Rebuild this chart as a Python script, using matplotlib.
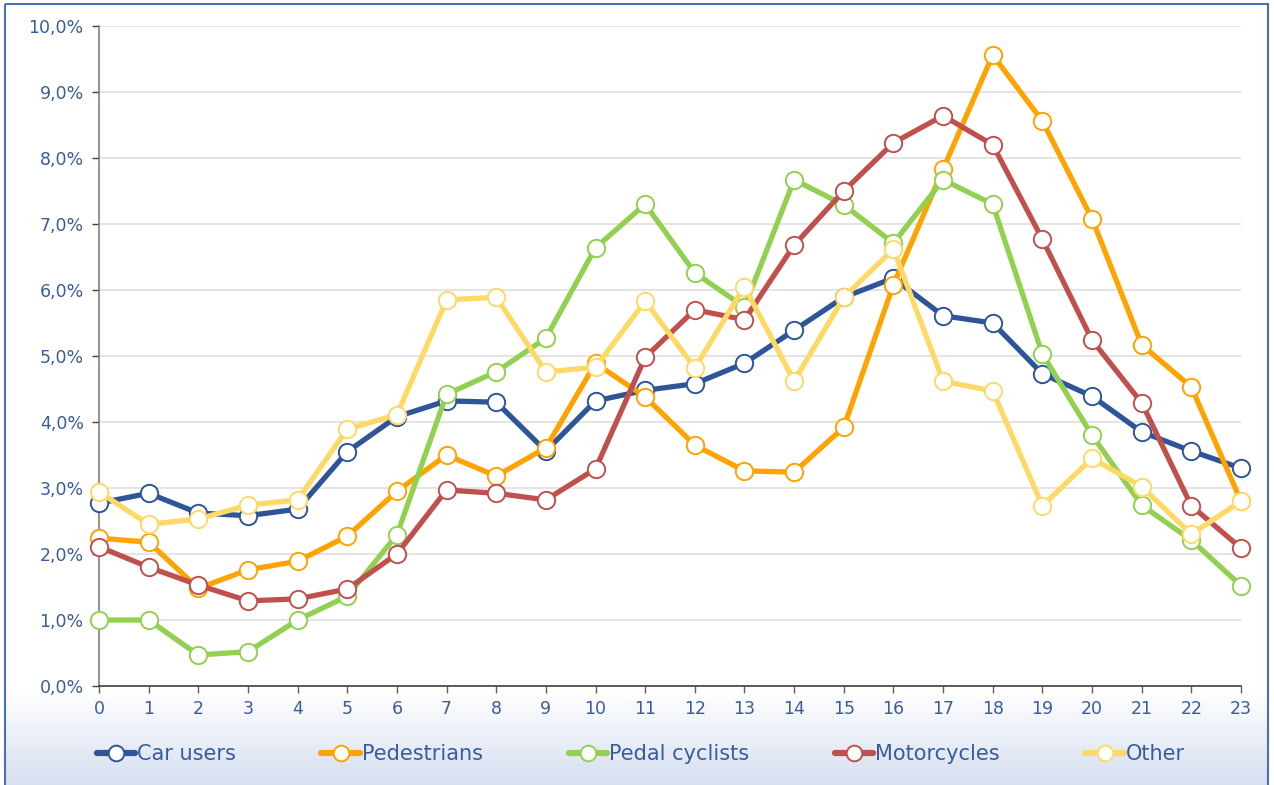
import numpy as np
import matplotlib
matplotlib.use("Agg")
import matplotlib.pyplot as plt
from matplotlib.patches import Rectangle
from matplotlib.ticker import FuncFormatter

# Heure de la journée
heures = list(range(24))

# Part des tués par heure (en %)
car_users = [2.77, 2.92, 2.62, 2.58, 2.68, 3.55, 4.08, 4.32, 4.30, 3.56, 4.32, 4.48,
             4.58, 4.89, 5.39, 5.89, 6.18, 5.61, 5.50, 4.73, 4.39, 3.85, 3.56, 3.30]
pedestrians = [2.24, 2.18, 1.48, 1.76, 1.89, 2.27, 2.95, 3.50, 3.18, 3.61, 4.89, 4.38,
               3.65, 3.26, 3.24, 3.92, 6.08, 7.83, 9.56, 8.56, 7.08, 5.17, 4.53, 2.80]
pedal_cyclists = [1.00, 1.00, 0.47, 0.52, 1.00, 1.36, 2.29, 4.42, 4.76, 5.27, 6.64, 7.30,
                  6.26, 5.74, 7.67, 7.29, 6.71, 7.67, 7.30, 5.03, 3.80, 2.74, 2.21, 1.52]
motorcycles = [2.11, 1.80, 1.53, 1.29, 1.32, 1.47, 2.00, 2.97, 2.92, 2.82, 3.29, 4.98,
               5.70, 5.55, 6.68, 7.50, 8.23, 8.64, 8.20, 6.77, 5.24, 4.29, 2.73, 2.09]
other = [2.94, 2.45, 2.53, 2.74, 2.82, 3.89, 4.11, 5.85, 5.89, 4.76, 4.83, 5.83,
         4.82, 6.05, 4.62, 5.89, 6.62, 4.62, 4.47, 2.73, 3.45, 3.02, 2.30, 2.80]

series = [
    ("Car users", car_users, "#2e5597"),
    ("Pedestrians", pedestrians, "#ffa300"),
    ("Pedal cyclists", pedal_cyclists, "#92d050"),
    ("Motorcycles", motorcycles, "#c0504d"),
    ("Other", other, "#ffd966"),
]

texte_bleu = "#3a5c9c"

fig = plt.figure(figsize=(12.74, 7.85), dpi=100)

# Fond : dégradé blanc -> bleu clair en bas
bg = fig.add_axes([0, 0, 1, 1], zorder=-10)
bg.set_xlim(0, 1274)
bg.set_ylim(785, 0)
bg.axis("off")
grad = np.linspace(0, 1, 200)[:, None]
c0 = np.array([1.0, 1.0, 1.0])
c1 = np.array([0.84, 0.875, 0.94])
img = c0 + (c1 - c0) * grad[..., None]
img = np.repeat(img, 2, axis=1)
bg.imshow(img, extent=(5, 1268, 785, 690), aspect="auto")
bg.add_patch(Rectangle((5, 4), 1263, 790, fill=False, edgecolor="#4a6fb5", lw=1.5))

ax = fig.add_axes([99 / 1274, 1 - 686 / 785, (1241 - 99) / 1274, (686 - 26) / 785])
ax.set_facecolor("none")

for nom, vals, couleur in series:
    ax.plot(heures, vals, color=couleur, lw=3.8, marker="o", markersize=12.5,
            markerfacecolor="white", markeredgecolor=couleur, markeredgewidth=1.4,
            label=nom, clip_on=False, solid_capstyle="round", zorder=3)

ax.set_xlim(0, 23)
ax.set_ylim(0, 10)
ax.set_xticks(heures)
ax.set_yticks(np.arange(0, 11, 1))
ax.yaxis.set_major_formatter(FuncFormatter(lambda v, p: f"{v:.1f}%".replace(".", ",")))
ax.grid(axis="y", color="#dcdcdc", lw=1.1, zorder=0)
ax.set_axisbelow(True)
for s in ["top", "right"]:
    ax.spines[s].set_visible(False)
ax.spines["left"].set_color("#808080")
ax.spines["left"].set_linewidth(1.2)
ax.spines["bottom"].set_color("#404040")
ax.spines["bottom"].set_linewidth(1.2)
ax.tick_params(axis="y", colors="#404040", labelcolor=texte_bleu, labelsize=12.5,
               length=5, width=1, pad=6)
ax.tick_params(axis="x", colors="#606060", labelcolor=texte_bleu, labelsize=12.5,
               length=5, width=1, pad=5)

leg = fig.legend(loc="center", bbox_to_anchor=(0.503, 1 - 754 / 785), ncol=5,
                 frameon=False, fontsize=15, handlelength=1.85, handletextpad=0.1,
                 columnspacing=4.1, markerscale=0.9)
for t in leg.get_texts():
    t.set_color(texte_bleu)
for h in leg.legend_handles:
    h.set_linewidth(4.5)

fig.savefig("out.png", dpi=100)
